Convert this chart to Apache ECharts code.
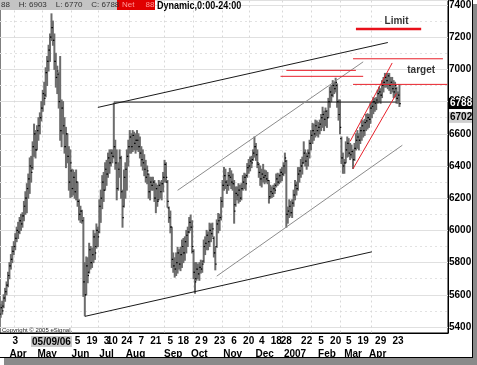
<!DOCTYPE html>
<html><head><meta charset="utf-8">
<script src="https://cdn.jsdelivr.net/npm/echarts@6/dist/echarts.min.js"></script>
<style>html,body{margin:0;padding:0;background:#fff}#c{width:477px;height:365px}</style>
</head><body><div id="c"></div>
<script>
// ---- calendar (trading days) ----
const startDate = '2006-03-20';
const tradingDayCount = 309;
const holidays = ['2006-04-14','2006-05-29','2006-07-04','2006-09-04','2006-11-23','2006-12-25',
  '2007-01-01','2007-01-02','2007-01-15','2007-02-19','2007-04-06','2007-05-28'];

// ---- daily OHLC ----
const opens = [5480,5520,5530,5580,5620,5660,5720,5780,5820,5870,5900,5950,6000,5990,6060,6040,6090,6150,6200,6260,
6320,6400,6390,6520,6600,6500,6620,6650,6700,6760,6850,6840,6980,7050,7120,7200,7260,7180,7050,6950,
6970,6800,6620,6760,6650,6520,6600,6460,6300,6370,6260,6330,6240,6300,6180,6100,6120,6060,5680,5600,
5780,5740,5880,5800,5850,5960,5900,6000,5990,6150,6200,6300,6250,6380,6350,6450,6420,6480,6460,6520,
6420,6260,6380,6450,6240,6150,6330,6380,6460,6520,6580,6520,6590,6540,6560,6560,6520,6480,6440,6420,
6380,6330,6350,6240,6300,6280,6300,6200,6260,6190,6280,6240,6290,6330,6410,6300,6140,6080,6020,5820,
5780,5760,5800,5860,5790,5850,5900,5860,5930,5970,5990,6050,6020,5870,5740,5700,5760,5730,5770,5760,
5810,5900,5920,5970,5930,6000,5980,5950,5860,5900,6040,6060,6080,6180,6280,6340,6300,6280,6340,6330,
6300,6290,6160,6230,6220,6250,6200,6260,6300,6330,6340,6390,6400,6430,6440,6480,6520,6470,6410,6360,
6320,6350,6330,6340,6320,6310,6210,6240,6230,6260,6280,6320,6300,6340,6360,6350,6400,6430,6100,6120,
6150,6110,6170,6220,6280,6260,6350,6370,6400,6420,6480,6430,6460,6480,6540,6590,6620,6600,6650,6620,
6640,6660,6700,6720,6690,6740,6700,6800,6860,6840,6900,6880,6900,6800,6720,6570,6450,6400,6420,6500,
6540,6480,6470,6490,6440,6510,6560,6580,6560,6620,6650,6620,6670,6680,6700,6690,6760,6770,6800,6790,
6810,6850,6860,6840,6900,6920,6950,6930,6960,6900,6920,6880,6860,6880,6820,6840];
const highs = [5540,5560,5600,5640,5680,5740,5800,5850,5900,5930,5980,6020,6050,6080,6100,6110,6180,6240,6290,6350,
6450,6460,6550,6660,6620,6650,6700,6730,6800,6870,6920,7010,7080,7150,7220,7345,7300,7220,7100,7020,
6980,7080,6810,6800,6700,6640,6600,6520,6500,6380,6375,6360,6375,6300,6190,6150,6125,6080,5800,5835,
5830,5920,5900,5890,6000,5980,6040,6020,6190,6250,6340,6360,6420,6435,6480,6500,6500,6500,6790,6560,
6500,6420,6500,6460,6250,6375,6420,6500,6560,6620,6600,6620,6610,6600,6620,6600,6580,6520,6500,6470,
6435,6400,6350,6330,6330,6330,6310,6290,6280,6310,6300,6310,6360,6435,6420,6310,6145,6120,6020,5860,
5830,5860,5895,5880,5895,5940,5950,5960,6000,6020,6080,6095,6060,5880,5800,5800,5790,5800,5815,5810,
5940,5960,6000,5990,6045,6040,6045,5960,5895,6065,6105,6100,6205,6310,6390,6380,6310,6360,6385,6370,
6350,6310,6270,6270,6290,6280,6290,6340,6355,6350,6415,6440,6455,6460,6500,6580,6540,6500,6415,6400,
6380,6410,6375,6370,6360,6310,6280,6270,6280,6290,6350,6355,6350,6380,6390,6420,6480,6435,6145,6190,
6180,6190,6250,6310,6300,6390,6390,6440,6455,6550,6500,6480,6500,6560,6620,6665,6660,6685,6680,6670,
6685,6720,6765,6740,6760,6745,6820,6890,6900,6930,6920,6945,6910,6810,6810,6580,6480,6440,6550,6580,
6570,6540,6530,6500,6540,6600,6620,6600,6640,6685,6680,6690,6720,6725,6720,6790,6800,6825,6820,6825,
6870,6890,6880,6930,6950,6975,6970,6975,6975,6950,6950,6930,6920,6890,6860,6903];
const lows = [5460,5480,5520,5560,5600,5650,5700,5760,5800,5850,5880,5930,5950,5980,6000,6020,6060,6100,6110,6200,
6230,6300,6380,6460,6450,6500,6560,6600,6680,6740,6780,6830,6900,6990,7050,7180,7150,7000,6890,6850,
6760,6560,6520,6600,6480,6390,6420,6250,6205,6210,6220,6200,6190,6150,6065,6050,6045,5590,5470,5600,
5675,5735,5760,5770,5800,5820,5890,5900,5985,6050,6135,6180,6250,6280,6330,6355,6400,6420,6450,6380,
6190,6250,6330,6200,6020,6145,6200,6250,6400,6480,6480,6490,6500,6480,6500,6490,6450,6400,6375,6340,
6300,6290,6200,6190,6250,6250,6180,6110,6150,6190,6200,6190,6240,6300,6300,6145,6050,5985,5770,5740,
5710,5720,5735,5760,5750,5770,5800,5815,5860,5900,5985,6000,5860,5700,5610,5690,5700,5690,5735,5740,
5800,5850,5880,5880,5900,5930,5960,5835,5755,5895,5985,6000,6065,6145,6250,6260,6230,6250,6280,6260,
6250,6045,6150,6190,6170,6180,6190,6250,6260,6250,6330,6355,6370,6390,6435,6455,6435,6390,6330,6280,
6270,6300,6290,6300,6290,6170,6200,6205,6210,6230,6270,6280,6290,6300,6310,6340,6355,6020,6045,6080,
6090,6080,6150,6190,6220,6250,6300,6330,6350,6420,6400,6380,6400,6450,6500,6540,6560,6580,6590,6580,
6600,6620,6640,6620,6650,6640,6700,6765,6800,6830,6850,6860,6765,6685,6600,6415,6355,6355,6420,6455,
6460,6440,6450,6385,6435,6500,6510,6500,6540,6560,6580,6590,6620,6630,6640,6665,6700,6725,6740,6750,
6790,6800,6790,6825,6860,6890,6890,6880,6870,6850,6860,6825,6830,6790,6790,6770];
const closes = [5520,5500,5580,5620,5660,5720,5780,5820,5870,5900,5950,6000,5990,6060,6040,6090,6150,6200,6260,6320,
6400,6360,6520,6600,6500,6620,6650,6700,6760,6850,6820,6980,7050,7120,7200,7260,7180,7050,6950,6990,
6800,6620,6760,6650,6520,6600,6460,6300,6420,6260,6330,6240,6300,6180,6100,6120,6060,5680,5600,5780,
5720,5880,5800,5850,5960,5860,6000,5960,6150,6200,6300,6250,6380,6350,6450,6420,6480,6460,6520,6420,
6260,6380,6450,6240,6080,6330,6380,6460,6520,6580,6520,6590,6540,6560,6560,6520,6480,6440,6420,6380,
6330,6370,6240,6300,6280,6300,6200,6260,6180,6280,6240,6290,6330,6410,6330,6180,6080,6020,5820,5780,
5760,5800,5860,5790,5850,5900,5860,5930,5970,5990,6050,6020,5900,5740,5680,5760,5730,5770,5760,5790,
5900,5920,5970,5930,6000,5980,6010,5860,5790,6040,6060,6080,6180,6280,6340,6300,6280,6340,6330,6300,
6290,6120,6230,6220,6250,6200,6260,6300,6330,6290,6390,6400,6430,6420,6480,6520,6470,6420,6360,6320,
6350,6330,6340,6320,6310,6200,6240,6230,6260,6250,6320,6300,6340,6360,6350,6400,6450,6100,6120,6150,
6110,6170,6220,6280,6260,6350,6370,6400,6420,6480,6430,6460,6480,6540,6590,6620,6600,6650,6620,6640,
6660,6700,6720,6690,6740,6700,6800,6860,6840,6900,6880,6920,6800,6720,6640,6450,6400,6420,6500,6540,
6480,6470,6490,6440,6510,6560,6580,6560,6620,6650,6620,6670,6680,6700,6690,6760,6770,6800,6790,6810,
6850,6860,6840,6900,6920,6950,6930,6960,6900,6920,6880,6860,6900,6820,6840,6788];

// ---- axis labels ----
const dayTickDates = ['2006-04-03','2006-05-09','2006-06-05','2006-06-19','2006-07-03','2006-07-10','2006-07-24',
  '2006-08-07','2006-08-21','2006-09-05','2006-09-18','2006-10-02','2006-10-09','2006-10-23','2006-11-06',
  '2006-11-20','2006-12-04','2006-12-18','2006-12-28','2007-01-22','2007-02-05','2007-02-20','2007-03-05',
  '2007-03-19','2007-04-02','2007-04-09','2007-04-23'];
const dayTickLabels = ['3','05/09/06','5','19','3','10','24','7','21','5','18','2','9','23','6','20','4','18','28',
  '22','5','20','5','19','2','9','23'];
const monthLabelDates = ['2006-04-05','2006-05-04','2006-06-07','2006-07-03','2006-08-01','2006-09-07','2006-10-03',
  '2006-11-03','2006-12-06','2007-01-09','2007-02-09','2007-03-08','2007-04-02'];
const monthLabels = ['Apr','May','Jun','Jul','Aug','Sep','Oct','Nov','Dec','2007','Feb','Mar','Apr'];
const gridLineDates = ['2006-04-03','2006-05-01','2006-05-30','2006-06-26','2006-07-26','2006-08-29','2006-09-27',
  '2006-10-25','2006-11-21','2006-12-26','2007-01-26','2007-02-26','2007-03-27'];

// ---- drawn trend lines: [date1, price1, date2, price2] ----
const blackLines = [
  ['2006-06-23', 6764, '2007-04-12', 7167],
  ['2006-06-12', 5466, '2007-03-27', 5867],
  ['2006-07-11', 6797, '2007-04-20', 6797]
];
const grayLines = [
  ['2006-09-12', 6249, '2007-03-19', 7047],
  ['2006-10-19', 5716, '2007-04-26', 6529]
];
const redLines = [
  ['2007-03-06', 6553, '2007-04-17', 7040],
  ['2007-03-08', 6383, '2007-04-20', 6850],
  ['2007-03-08', 7066, '2007-06-06', 7066],
  ['2006-12-28', 6994, '2007-03-12', 6994],
  ['2006-12-21', 6957, '2007-03-19', 6957],
  ['2007-03-08', 6907, '2007-06-11', 6907]
];
const limitLine = ['2007-03-12', 7251, '2007-05-15', 7251];
const notes = [['2007-04-20', 7300, 'Limit'], ['2007-05-15', 6995, 'target']];
const lastClose = 6788, secondLabel = 6702;

// build trading days
const dates = [];
(function(){
  const hol = new Set(holidays);
  let d = new Date(startDate + 'T12:00:00Z');
  while (dates.length < tradingDayCount) {
    const wd = d.getUTCDay();
    const s = d.toISOString().slice(0,10);
    if (wd !== 0 && wd !== 6 && !hol.has(s)) dates.push(s);
    d = new Date(d.getTime() + 86400000);
  }
})();

const FONT = '"Liberation Sans", Arial, sans-serif';
const ohlc = opens.map((o, i) => [i, o, highs[i], lows[i], closes[i]]);
const daySet = new Map(dayTickDates.map((d, i) => [d, dayTickLabels[i]]));
const monSet = new Map(monthLabelDates.map((d, i) => [d, monthLabels[i]]));
const gridSet = new Set(gridLineDates);

function seg(l, color, width) {
  return { type: 'line', data: [[l[0], l[1]], [l[2], l[3]]], symbol: 'none', silent: true,
    lineStyle: { color: color, width: width }, animation: false, z: 3 };
}

const series = [{
  type: 'custom', data: ohlc, animation: false, z: 2,
  encode: { x: 0, y: [1, 2, 3, 4] },
  renderItem: function (params, api) {
    const x = api.value(0);
    const o = api.coord([x, api.value(1)]), h = api.coord([x, api.value(2)]);
    const l = api.coord([x, api.value(3)]), c = api.coord([x, api.value(4)]);
    return { type: 'group', children: [
      { type: 'line', shape: { x1: h[0], y1: h[1] - 0.5, x2: l[0], y2: l[1] + 0.5 }, style: { stroke: '#6c6c6c', lineWidth: 2 } },
      { type: 'line', shape: { x1: o[0] - 1.3, y1: o[1], x2: o[0], y2: o[1] }, style: { stroke: '#000', lineWidth: 1.2 } },
      { type: 'line', shape: { x1: c[0], y1: c[1], x2: c[0] + 1.3, y2: c[1] }, style: { stroke: '#000', lineWidth: 1.2 } }
    ]};
  }
}];
blackLines.forEach(l => series.push(seg(l, '#1a1a1a', 1)));
grayLines.forEach(l => series.push(seg(l, '#8c8c8c', 1)));
redLines.forEach(l => series.push(seg(l, '#e8202a', 1)));
series.push(seg(limitLine, '#e8101a', 2.5));
series.push({
  type: 'scatter', symbolSize: 0, silent: true, animation: false,
  data: notes.map(n => ({ value: [n[0], n[1]], name: n[2] })),
  label: { show: true, position: 'inside', formatter: p => p.name, color: '#000',
    fontFamily: FONT, fontWeight: 'bold', fontSize: 10 }
});
// price boxes on the right axis
series[1].markLine = { symbol: 'none', silent: true, animation: false,
  lineStyle: { color: 'rgba(0,0,0,0)', width: 0 },
  data: [
    { yAxis: lastClose, label: { show: true, position: 'end', distance: 1, formatter: String(lastClose),
      color: '#fff', backgroundColor: '#000', padding: [1, 0, 0, 1], fontWeight: 'bold', fontSize: 10, fontFamily: FONT } },
    { yAxis: secondLabel, label: { show: true, position: 'end', distance: 1, formatter: String(secondLabel),
      color: '#000', backgroundColor: '#cfcfcf', padding: [1, 0, 0, 1], fontWeight: 'bold', fontSize: 10, fontFamily: FONT } }
  ] };

const chart = echarts.init(document.getElementById('c'), null, { renderer: 'canvas' });
chart.setOption({
  animation: false,
  backgroundColor: '#fff',
  grid: { left: 0, right: 29, top: 0, bottom: 32, show: true, borderColor: '#000', borderWidth: 1, backgroundColor: 'transparent' },
  xAxis: [{
    type: 'category', data: dates, boundaryGap: true, position: 'bottom',
    axisLine: { show: true, lineStyle: { color: '#000', width: 1 } },
    axisTick: { show: false },
    splitLine: { show: true, interval: (i, v) => gridSet.has(v), lineStyle: { color: '#d8d8d8', type: [2, 3], width: 1 } },
    axisLabel: { interval: (i, v) => daySet.has(v), margin: 3, color: '#000', fontSize: 10, fontWeight: 'bold',
      fontFamily: FONT,
      formatter: v => v === '2006-05-09' ? '{h|' + daySet.get(v) + '}' : daySet.get(v),
      rich: { h: { backgroundColor: '#c8c8c8', color: '#000', fontSize: 10, fontWeight: 'bold', padding: [1, 1, 0, 1], fontFamily: FONT } } }
  }, {
    type: 'category', data: dates, boundaryGap: true, position: 'bottom', offset: 13,
    axisLine: { show: false }, axisTick: { show: false }, splitLine: { show: false },
    axisLabel: { interval: (i, v) => monSet.has(v), margin: 3, color: '#000', fontSize: 10, fontWeight: 'bold',
      fontFamily: FONT, formatter: v => monSet.get(v) }
  }],
  yAxis: {
    type: 'value', position: 'right', min: 5362.8, max: 7427.9, splitNumber: 10, scale: true,
    axisLine: { show: true, lineStyle: { color: '#000' } }, axisTick: { show: false },
    axisLabel: { margin: 1, color: '#000', fontSize: 10, fontWeight: 'bold', fontFamily: FONT,
      showMinLabel: false, showMaxLabel: false, formatter: v => String(Math.round(v)) },
    splitLine: { show: true, lineStyle: { color: '#e0e0e0', width: 1 } },
    minorTick: { show: false, splitNumber: 2 },
    minorSplitLine: { show: true, lineStyle: { color: '#e2e2e2', type: [2, 3] } }
  },
  series: series,
  graphic: [
    { type: 'rect', shape: { x: 0, y: 0, width: 155, height: 10 }, style: { fill: '#c4c4c4' }, z: 100 },
    { type: 'rect', shape: { x: 117, y: 0, width: 38, height: 10 }, style: { fill: '#e00000' }, z: 101 },
    { type: 'text', x: 1, y: 1, z: 102, style: { text: '88    H: 6903    L: 6770    C: 6788', fill: '#333', font: '8px ' + FONT } },
    { type: 'text', x: 122, y: 1, z: 102, style: { text: 'Net     88', fill: '#ff9a9a', font: '8px ' + FONT } },
    { type: 'text', x: 157, y: 0, z: 102, scaleX: 0.82, style: { text: 'Dynamic,0:00-24:00', fill: '#000', font: 'bold 11px ' + FONT } },
    { type: 'text', x: 2, y: 327, z: 102, style: { text: 'Copyright \u00a9 2005 eSignal.', fill: '#222', font: '6px ' + FONT } },
    { type: 'rect', shape: { x: 472, y: 0, width: 1, height: 358 }, style: { fill: '#000' }, z: 100 },
    { type: 'rect', shape: { x: 0, y: 357, width: 473, height: 1 }, style: { fill: '#000' }, z: 100 },
    { type: 'rect', shape: { x: 473, y: 4, width: 4, height: 361 }, style: { fill: '#8a8a8a' }, z: 100 },
    { type: 'rect', shape: { x: 4, y: 358, width: 473, height: 7 }, style: { fill: '#8a8a8a' }, z: 100 }
  ]
});
</script></body></html>
